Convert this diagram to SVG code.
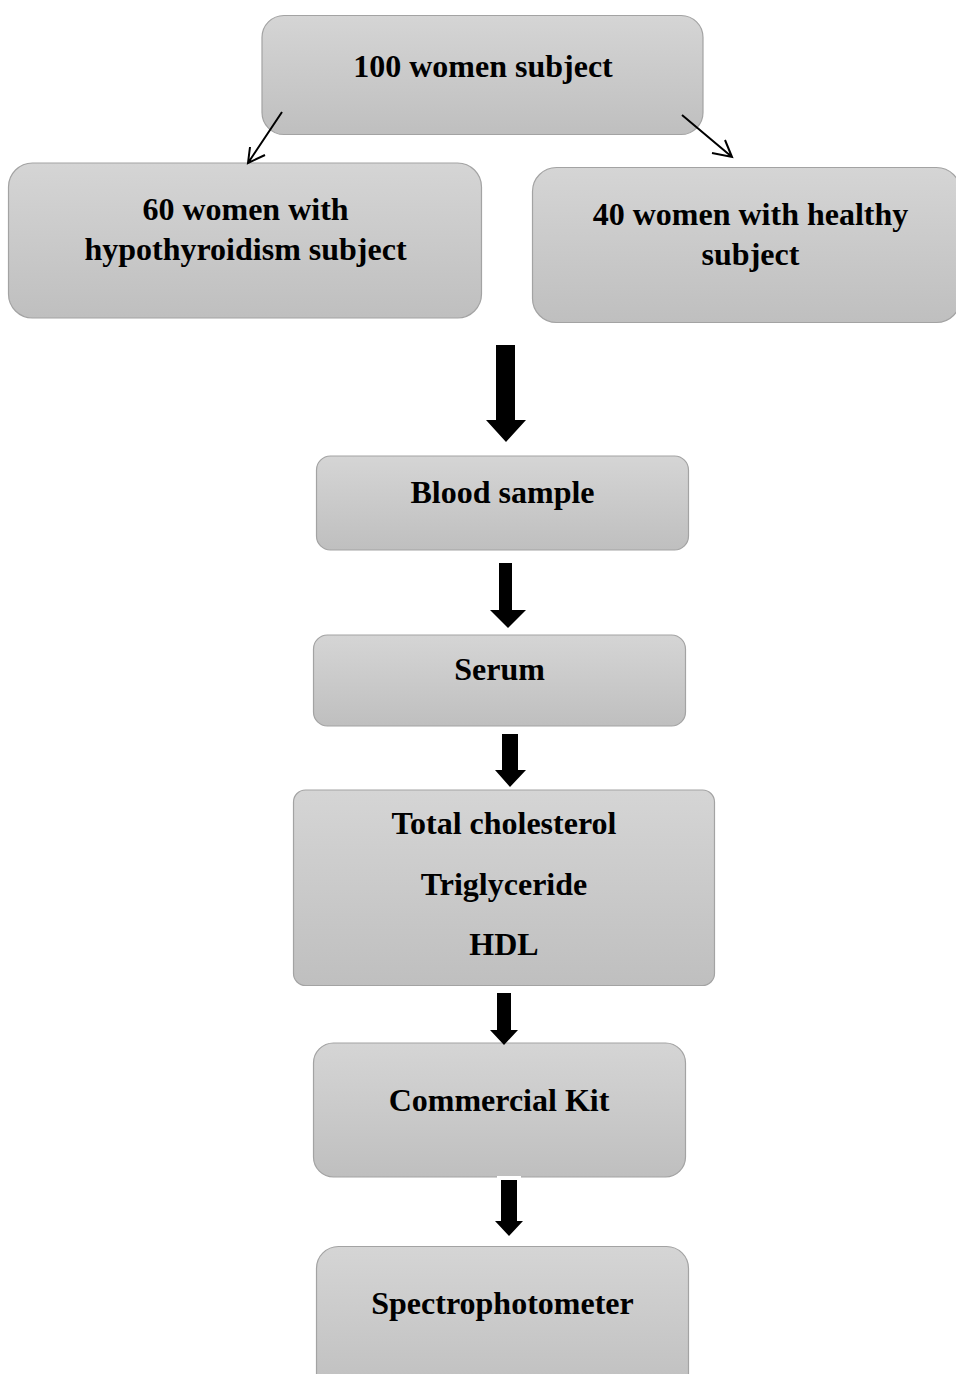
<svg xmlns="http://www.w3.org/2000/svg" width="956" height="1374" viewBox="0 0 956 1374">
<defs>
<linearGradient id="g" x1="0" y1="0" x2="0" y2="1">
<stop offset="0" stop-color="#d5d5d5"/>
<stop offset="1" stop-color="#bfbfbf"/>
</linearGradient>
<style>
.box{fill:url(#g);stroke:#a3a3a3;stroke-width:1.2}
.t{font-family:"Liberation Serif","Times New Roman",serif;font-weight:bold;font-size:32px;fill:#000;text-anchor:middle}
.thin{stroke:#000;stroke-width:2;fill:none}
.big{fill:#000}
</style>
</defs>
<rect width="956" height="1374" fill="#fff"/>
<g id="n-top"><rect class="box" x="262" y="15.5" width="441" height="119" rx="22"/><text class="t" x="483" y="77">100 women subject</text></g>
<g id="n-hypo"><rect class="box" x="8.5" y="163" width="473" height="155" rx="24"/><text class="t" x="245.5" y="220">60 women with</text><text class="t" x="245.5" y="260">hypothyroidism subject</text></g>
<g id="n-healthy"><rect class="box" x="532.5" y="167.5" width="428" height="155" rx="24"/><text class="t" x="750.5" y="225">40 women with healthy</text><text class="t" x="750.5" y="265">subject</text></g>
<g id="n-blood"><rect class="box" x="316.5" y="456" width="372" height="94" rx="14"/><text class="t" x="502.5" y="503">Blood sample</text></g>
<g id="n-serum"><rect class="box" x="313.5" y="635" width="372" height="91" rx="14"/><text class="t" x="499.5" y="680">Serum</text></g>
<g id="n-lipid"><rect class="box" x="293.5" y="790" width="421" height="195.5" rx="12"/><text class="t" x="504" y="834">Total cholesterol</text><text class="t" x="504" y="895">Triglyceride</text><text class="t" x="504" y="955">HDL</text></g>
<g id="n-kit"><rect class="box" x="313.5" y="1043" width="372" height="134" rx="20"/><text class="t" x="499" y="1111">Commercial Kit</text></g>
<g id="n-spectro"><rect class="box" x="316.5" y="1246.5" width="372" height="150" rx="22"/><text class="t" x="502.5" y="1314">Spectrophotometer</text></g>
<g id="connectors">
<path class="thin" d="M282 112 L248 163 M250 147 L248 163 L265 155"/>
<path class="thin" d="M682 115 L732 157 M712 153 L732 157 L725 140"/>
<polygon class="big" points="496,345 515,345 515,420 526,420 506,442 486,420 496,420"/>
<polygon class="big" points="499,563 512,563 512,610 526,610 508,628 490,610 499,610"/>
<polygon class="big" points="502,734 518,734 518,770 526,770 510,787 495,770 502,770"/>
<polygon class="big" points="497,993 511,993 511,1030 518,1030 504,1045 490,1030 497,1030"/>
<rect x="497" y="1176" width="24" height="4" fill="#fff"/>
<polygon class="big" points="501,1180 517,1180 517,1221 523,1221 509,1236 495,1221 501,1221"/>
</g>
</svg>
